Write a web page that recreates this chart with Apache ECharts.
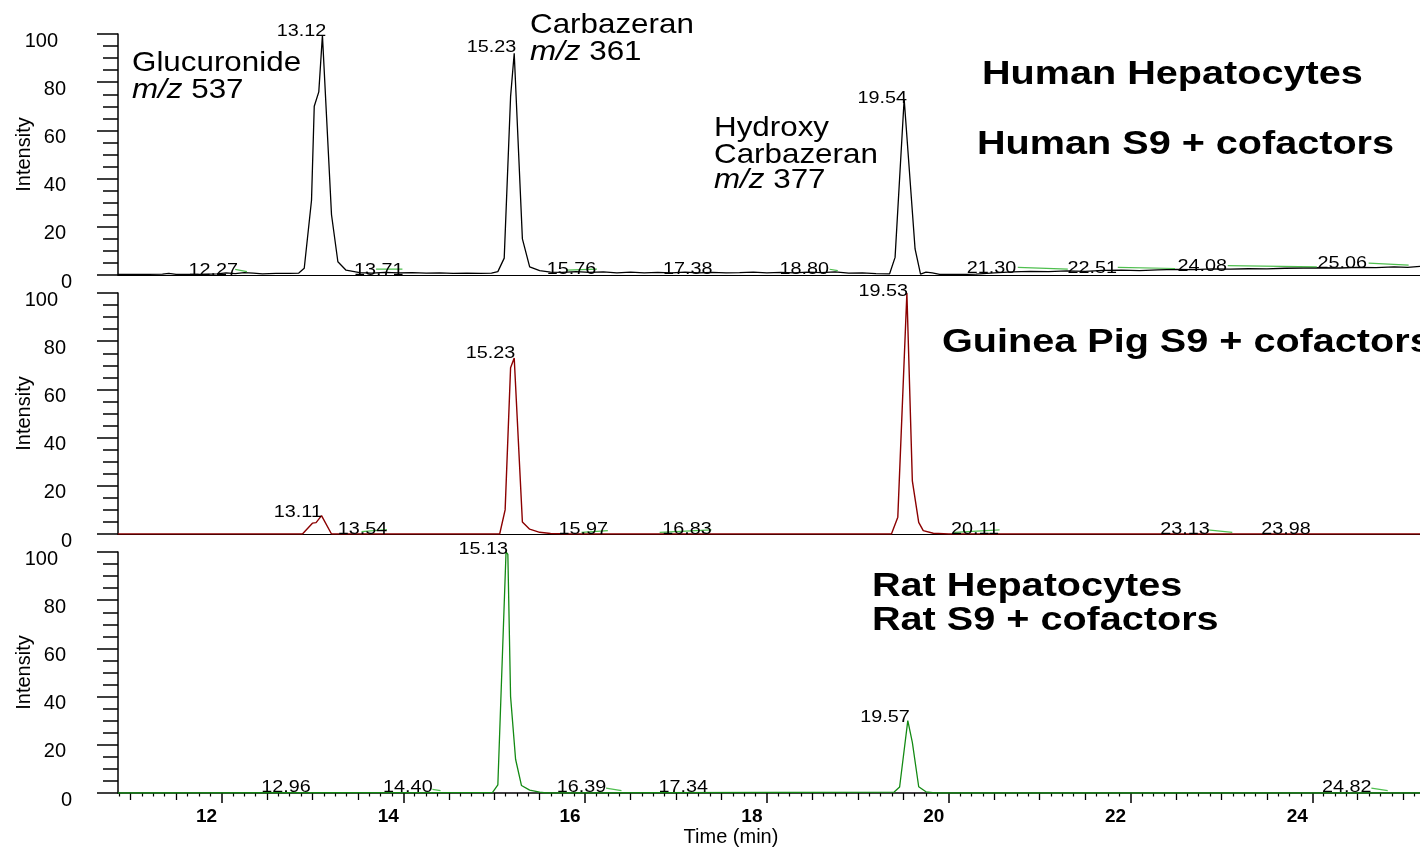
<!DOCTYPE html>
<html><head><meta charset="utf-8">
<script src="https://cdn.jsdelivr.net/npm/echarts@6/dist/echarts.min.js"></script>
<style>html,body{margin:0;padding:0;background:#fff}#c{width:1420px;height:847px}</style>
</head><body><div id="c"></div>
<script>
// ---------- DATA ----------
const xTickLabels = [12, 14, 16, 18, 20, 22, 24];
const yTickLabels = [0, 20, 40, 60, 80, 100];

// Human (top, black)
const humanT = [10.86,11.20,11.35,11.42,11.50,11.80,11.95,12.05,12.15,12.25,12.35,12.45,12.60,12.75,12.85,12.91,12.99,13.02,13.07,13.11,13.21,13.28,13.37,13.52,13.65,13.80,13.95,14.10,14.25,14.40,14.55,14.70,14.85,14.97,15.04,15.11,15.18,15.22,15.31,15.39,15.50,15.62,15.75,15.90,16.05,16.20,16.35,16.50,16.65,16.80,16.95,17.10,17.25,17.40,17.55,17.70,17.85,18.00,18.15,18.30,18.45,18.60,18.75,18.90,19.05,19.20,19.35,19.41,19.51,19.63,19.69,19.75,19.82,19.90,20.10,20.30,20.50,20.70,20.90,21.10,21.30,21.50,21.70,21.90,22.10,22.30,22.50,22.70,22.90,23.10,23.30,23.50,23.70,23.90,24.10,24.30,24.50,24.70,24.90,25.05,25.19];
const humanV = [0.3,0.3,0.4,0.7,0.3,0.3,0.5,0.9,0.6,1.0,0.8,0.5,0.7,0.7,0.8,2.8,31,70,76,99.5,25,5.5,2,1.0,0.8,1.1,0.9,1.0,0.8,0.9,0.7,0.8,0.7,0.8,1.4,7,74,92,15,3.4,1.8,1.2,1.1,1.4,1.1,1.3,0.9,1.2,0.9,1.1,0.9,1.2,0.9,1.1,0.9,1.0,1.2,0.9,1.1,0.9,1.2,1.0,1.3,0.8,0.9,0.6,0.5,7.3,73,10.8,0.4,1.2,0.9,0.3,0.2,0.4,0.9,1.3,1.5,1.4,1.7,1.5,1.9,2.0,1.8,2.1,2.3,2.2,2.5,2.4,2.6,2.5,2.8,2.9,3.0,2.9,3.2,3.1,3.4,3.2,3.6];
// integration baselines [t1, v1, t2, v2]
const humanBase = [[12.15,2.3,12.28,1.4],[13.70,2.4,13.99,2.4],[15.80,2.0,16.13,2.4],[18.69,2.4,18.78,1.8],[20.76,3.2,21.31,2.4],[21.86,3.2,22.49,2.7],[23.07,3.9,24.05,3.4],[24.62,4.9,25.06,4.1]];
// peak labels: text, label-centre time, label-centre intensity
const humanLabels = [['13.12',12.88,101.2],['15.23',14.97,94.4],['19.54',19.27,73.4],['12.27',11.91,1.9],['13.71',13.73,1.9],['15.76',15.85,2.1],['17.38',17.13,2.1],['18.80',18.41,2.1],['21.30',20.47,2.9],['22.51',21.58,2.7],['24.08',22.79,3.7],['25.06',24.33,4.6]];

// Guinea pig (middle, dark red)
const guineaT = [10.86,12.89,13.00,13.04,13.10,13.21,15.06,15.12,15.18,15.22,15.31,15.39,15.50,15.62,15.80,19.37,19.44,19.54,19.60,19.67,19.72,19.83,20.00,25.19];
const guineaV = [0,0,4.5,4.7,7.6,0,0,10,69,73,5,2,0.7,0.2,0,0,7,100,22,4.8,1.4,0.3,0,0];
const guineaBase = [[13.54,1.0,13.82,1.8],[15.96,0.7,16.25,1.4],[16.82,0.7,17.39,1.7],[20.06,0.7,20.56,1.7],[22.85,1.7,23.12,0.7]];
const guineaLabels = [['13.11',12.84,9.1],['13.54',13.55,1.7],['15.23',14.96,75.1],['15.97',15.98,1.7],['16.83',17.12,1.7],['19.53',19.28,100.8],['20.11',20.29,1.7],['23.13',22.60,1.7],['23.98',23.71,1.7]];

// Rat (bottom, green)
const ratT = [10.86,14.98,15.04,15.13,15.15,15.18,15.235,15.30,15.39,15.50,15.57,19.40,19.46,19.55,19.60,19.67,19.75,19.85,25.19];
const ratV = [0,0.2,3.4,100,99,40,14,3.1,1.2,0.4,0,0.4,2.5,30,21,2.6,0.5,0,0];
const ratBase = [[14.32,1.5,14.41,1.0],[16.23,2.0,16.40,1.0],[24.65,2.0,24.83,1.0]];
const ratLabels = [['15.13',14.88,101.2],['12.96',12.71,2.1],['14.40',14.05,2.1],['16.39',15.96,2.1],['17.34',17.08,2.1],['19.57',19.30,31.5],['24.82',24.38,2.1]];

// ---------- LAYOUT ----------
const X_MIN = 10.861, X_MAX = 25.185;
const FONT = "'Liberation Sans', Arial, Helvetica, sans-serif";
const gridBase = {left:118, right:0, height:241, containLabel:false, outerBoundsMode:'none'};
const grids = [34, 293, 552].map(top => Object.assign({top}, gridBase));

const mediumTicks = [], minorTicks = [];
for (let k = Math.ceil(X_MIN*8); k*0.125 <= X_MAX; k++) {
  const t = k*0.125;
  if (k % 16 === 0) continue;
  if (k % 4 === 0) mediumTicks.push(t); else minorTicks.push(t);
}

function pairs(T, V){ return T.map((t,i)=>[t, V[i]]); }
function segs(B){ const out=[]; B.forEach(b=>{ out.push([b[0],b[1]],[b[2],b[3]],[null,null]); }); return out; }

function yAxis(i){
  return {
    gridIndex:i, type:'value', min:0, max:100, interval:20, position:'left',
    axisLine:{show:true, onZero:false, lineStyle:{color:'#000', width:1.5}},
    axisTick:{show:true, length:21, lineStyle:{color:'#000', width:1.5}},
    minorTick:{show:true, splitNumber:4, length:15, lineStyle:{color:'#000', width:1.5}},
    splitLine:{show:false}, minorSplitLine:{show:false},
    axisLabel:{
      margin:46, padding:[14,0,0,0], color:'#000', fontSize:20, fontFamily:FONT,
      formatter: v => v===100 ? '{h|100}' : (v===0 ? '{z|0}' : '{a|'+v+'}'),
      rich:{
        a:{padding:[0,6,0,0], fontSize:20, fontFamily:FONT, color:'#000'},
        h:{padding:[0,14,0,0], fontSize:20, fontFamily:FONT, color:'#000'},
        z:{fontSize:20, fontFamily:FONT, color:'#000'}
      }
    },
    name:'Intensity', nameLocation:'middle', nameGap:84, nameRotate:90, nameMoveOverlap:false,
    nameTextStyle:{fontSize:20, color:'#000', fontFamily:FONT}
  };
}
function plainX(i){
  return {gridIndex:i, type:'value', min:X_MIN, max:X_MAX, position:'bottom',
    axisLine:{show:true, onZero:false, lineStyle:{color:'#000', width:1.2}},
    axisTick:{show:false}, axisLabel:{show:false}, splitLine:{show:false}};
}

const xAxes = [
  plainX(0), plainX(1),
  {gridIndex:2, type:'value', min:X_MIN, max:X_MAX, position:'bottom', offset:0,
   axisLine:{show:true, onZero:false, lineStyle:{color:'#000', width:1.5}},
   axisTick:{show:true, customValues:xTickLabels, length:10, lineStyle:{color:'#000', width:1.5}},
   axisLabel:{show:true, customValues:xTickLabels, margin:14, padding:[0,30,0,0], color:'#000', fontSize:19, fontWeight:'bold', fontFamily:FONT},
   splitLine:{show:false},
   name:'Time (min)', nameLocation:'middle', nameGap:34, nameMoveOverlap:false,
   nameTextStyle:{fontSize:20, color:'#000', fontFamily:FONT, padding:[0,76,0,0]}},
  {gridIndex:2, type:'value', min:X_MIN, max:X_MAX, position:'bottom', offset:0,
   axisLine:{show:false, onZero:false}, axisLabel:{show:false}, splitLine:{show:false},
   axisTick:{show:true, customValues:mediumTicks, length:7, lineStyle:{color:'#000', width:1.3}}},
  {gridIndex:2, type:'value', min:X_MIN, max:X_MAX, position:'bottom', offset:0,
   axisLine:{show:false, onZero:false}, axisLabel:{show:false}, splitLine:{show:false},
   axisTick:{show:true, customValues:minorTicks, length:3.5, lineStyle:{color:'#000', width:1.2}}}
];

function line(i, data, color, w, z){
  return {type:'line', xAxisIndex: i===2?2:i, yAxisIndex:i, data, showSymbol:false, symbol:'none',
    connectNulls:false, animation:false, z:z||2, lineStyle:{color, width:w}};
}
const BASE_GREEN = '#4fbf4f';
const series = [
  line(0, pairs(humanT, humanV), '#000000', 1.3),
  line(0, segs(humanBase), BASE_GREEN, 1.2, 3),
  line(1, pairs(guineaT, guineaV), '#8b0000', 1.4),
  line(1, segs(guineaBase), BASE_GREEN, 1.2, 3),
  line(2, pairs(ratT, ratV), '#138a13', 1.3),
  line(2, segs(ratBase), BASE_GREEN, 1.2, 3)
];

const chart = echarts.init(document.getElementById('c'), null, {renderer:'canvas'});
chart.setOption({
  backgroundColor:'#fff', animation:false,
  grid: grids, xAxis: xAxes, yAxis: [yAxis(0), yAxis(1), yAxis(2)], series
});

// ---------- ANNOTATIONS ----------
const graphics = [];
function peakLabels(list, gi){
  list.forEach(l=>{
    const p = chart.convertToPixel({gridIndex:gi}, [l[1], l[2]]);
    graphics.push({type:'text', x:p[0], y:p[1], scaleX:1.2, silent:true, z:10,
      style:{text:l[0], fontSize:16.5, fontFamily:FONT, fill:'#000', align:'center', verticalAlign:'middle'}});
  });
}
peakLabels(humanLabels, 0); peakLabels(guineaLabels, 1); peakLabels(ratLabels, 2);

function note(text, x, y, size, bold, sx){
  graphics.push({type:'text', x, y, scaleX:sx, silent:true, z:10,
    style:{text, fontSize:size, fontWeight: bold?'bold':'normal', fontFamily:FONT, fill:'#000',
      align:'left', verticalAlign:'middle',
      rich:{i:{fontStyle:'italic', fontSize:size, fontFamily:FONT, fill:'#000'}, r:{fontSize:size, fontFamily:FONT, fill:'#000'}}}});
}
note('Glucuronide', 132, 63.5, 28, false, 1.12);
note('{i|m/z}{r| 537}', 132, 90.5, 28, false, 1.12);
note('Carbazeran', 530, 25.5, 28, false, 1.12);
note('{i|m/z}{r| 361}', 530, 52.5, 28, false, 1.12);
note('Hydroxy', 714, 128.5, 28, false, 1.12);
note('Carbazeran', 714, 155.5, 28, false, 1.12);
note('{i|m/z}{r| 377}', 714, 180.5, 28, false, 1.12);
note('Human Hepatocytes', 982, 75, 33, true, 1.2);
note('Human S9 + cofactors', 977, 145, 33, true, 1.2);
note('Guinea Pig S9 + cofactors', 942, 343, 33, true, 1.2);
note('Rat Hepatocytes', 872, 587, 33, true, 1.2);
note('Rat S9 + cofactors', 872, 621, 33, true, 1.2);

chart.setOption({graphic: graphics});
</script></body></html>
